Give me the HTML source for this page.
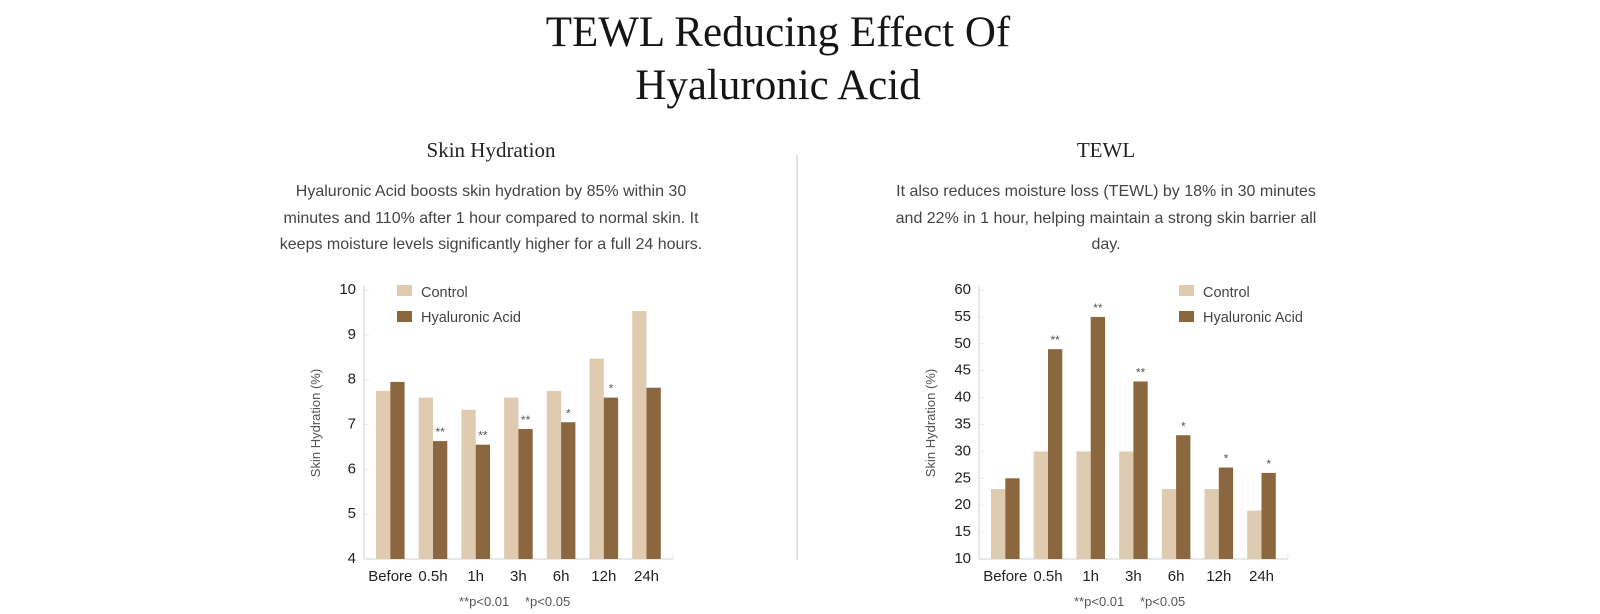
<!DOCTYPE html>
<html><head><meta charset="utf-8"><style>
body{margin:0;width:1600px;height:614px;background:#fff;position:relative;overflow:hidden;font-family:"Liberation Sans",sans-serif}
.t{position:absolute;left:378px;width:800px;text-align:center;font-family:"Liberation Serif",serif;font-size:43px;color:#151515;line-height:53px;top:6px}
.h{position:absolute;width:500px;text-align:center;font-family:"Liberation Serif",serif;font-size:21px;color:#222;top:138px}
.p{position:absolute;width:440px;text-align:center;font-size:16px;color:#444;line-height:26.5px;top:179px}
</style></head><body>
<div class="t">TEWL Reducing Effect Of<br>Hyaluronic Acid</div>
<div class="h" style="left:241px">Skin Hydration</div>
<div class="h" style="left:856px">TEWL</div>
<div class="p" style="left:271px">Hyaluronic Acid boosts skin hydration by 85% within 30 minutes and 110% after 1 hour compared to normal skin. It keeps moisture levels significantly higher for a full 24 hours.</div>
<div class="p" style="left:886px">It also reduces moisture loss (TEWL) by 18% in 30 minutes and 22% in 1 hour, helping maintain a strong skin barrier all day.</div>
<svg width="1600" height="614" style="position:absolute;left:0;top:0" font-family="Liberation Sans, sans-serif">
<line x1="797" y1="155" x2="797" y2="560" stroke="#e2e2e2" stroke-width="2"/>
<g id="L"></g><g id="R"></g>
</svg>
<script>
function chart(g,ax,min,max,step,c,h,stars,lx){
 var s='',top=290,bot=559;
 function y(v){return bot-(v-min)/(max-min)*(bot-top);}
 s+='<line x1="'+ax+'" y1="'+(top-4)+'" x2="'+ax+'" y2="'+bot+'" stroke="#e8e8e8" stroke-width="2"/>';
 s+='<line x1="'+ax+'" y1="'+bot+'" x2="'+(ax+309)+'" y2="'+bot+'" stroke="#e8e8e8" stroke-width="2"/>';
 s+='<line x1="'+(ax+309)+'" y1="'+(bot-6)+'" x2="'+(ax+309)+'" y2="'+bot+'" stroke="#e8e8e8" stroke-width="1"/>';
 for(var v=min;v<=max;v+=step){s+='<text x="'+(ax-8)+'" y="'+(y(v)+4)+'" text-anchor="end" font-size="15" fill="#222">'+v+'</text>';
  s+='<line x1="'+ax+'" y1="'+y(v)+'" x2="'+(ax+5)+'" y2="'+y(v)+'" stroke="#e8e8e8"/>';}
 var labs=['Before','0.5h','1h','3h','6h','12h','24h'];
 for(var i=0;i<7;i++){var x=ax+12+i*42.7;
  s+='<rect x="'+x+'" y="'+y(c[i])+'" width="14.3" height="'+(bot-y(c[i]))+'" fill="#dfcbb0"/>';
  s+='<rect x="'+(x+14.3)+'" y="'+y(h[i])+'" width="14.3" height="'+(bot-y(h[i]))+'" fill="#8b6740"/>';
  if(stars[i])s+='<text x="'+(x+21.5)+'" y="'+(y(h[i])-5)+'" text-anchor="middle" font-size="12" fill="#555">'+stars[i]+'</text>';
  s+='<text x="'+(x+14.3)+'" y="'+581+'" text-anchor="middle" font-size="15" fill="#222">'+labs[i]+'</text>';}
 s+='<text transform="translate('+(ax-44)+',423) rotate(-90)" text-anchor="middle" font-size="13" fill="#555">Skin Hydration (%)</text>';
 s+='<rect x="'+lx+'" y="285" width="15" height="11" fill="#dfcbb0"/><text x="'+(lx+24)+'" y="297" font-size="14.5" fill="#444">Control</text>';
 s+='<rect x="'+lx+'" y="311" width="15" height="11" fill="#8b6740"/><text x="'+(lx+24)+'" y="322" font-size="14.5" fill="#444">Hyaluronic Acid</text>';
 s+='<text x="'+(ax+95)+'" y="606" font-size="13" fill="#555">**p&lt;0.01</text><text x="'+(ax+161)+'" y="606" font-size="13" fill="#555">*p&lt;0.05</text>';
 document.getElementById(g).innerHTML=s;}
chart('L',364,4,10,1,[7.75,7.6,7.33,7.6,7.75,8.47,9.53],[7.95,6.63,6.55,6.9,7.05,7.6,7.82],['','**','**','**','*','*',''],397);
chart('R',979,10,60,5,[23,30,30,30,23,23,19],[25,49,55,43,33,27,26],['','**','**','**','*','*','*'],1179);
</script>
</body></html>
